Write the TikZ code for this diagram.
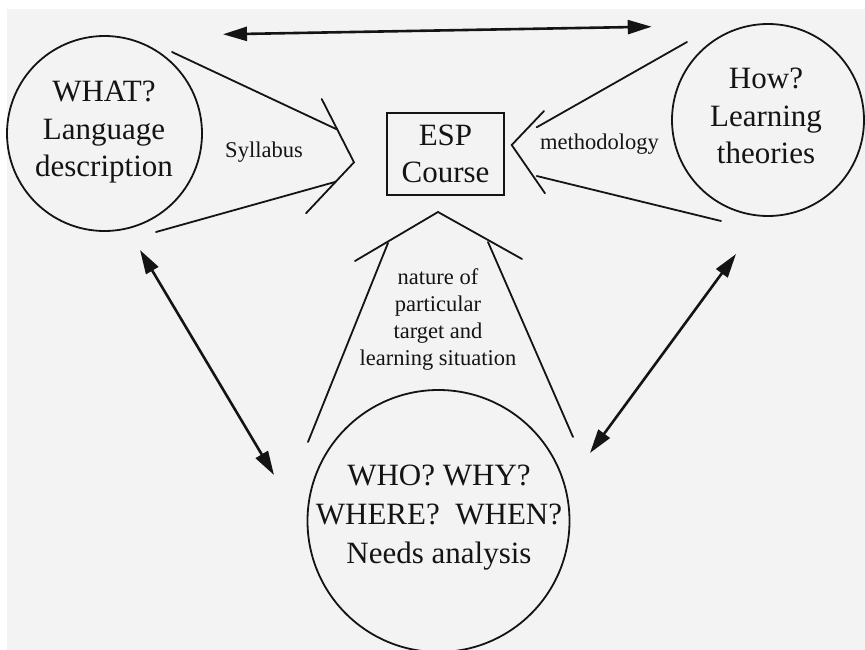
\documentclass[tikz,border=0pt]{standalone}
\usepackage{fontspec}
\setmainfont{Liberation Serif}
\usetikzlibrary{arrows.meta}
\definecolor{paper}{RGB}{243,243,243}
\definecolor{ink}{RGB}{20,20,20}
\begin{document}
\begin{tikzpicture}[x=1pt,y=-1pt,
  bigtxt/.style={font=\fontsize{31}{37.5}\selectfont, align=center, inner sep=0pt, text=ink},
  smalltxt/.style={font=\fontsize{22.5}{27}\selectfont, align=center, inner sep=0pt, text=ink},
  ring/.style={circle, draw=ink, line width=1.8pt, inner sep=0pt},
  flow/.style={draw=ink, line width=1.8pt, line cap=round, line join=miter},
  link/.style={draw=ink, line width=2.6pt, {Triangle[length=24pt,width=14pt]}-{Triangle[length=24pt,width=14pt]}}
]
\useasboundingbox (0,0) rectangle (865,650);
\fill[white] (0,0) rectangle (865,650);
\fill[paper] (7,9) rectangle (865,650);

% circles and box
\node[ring, minimum size=195pt] (what) at (104.5,133.5) {};
\node[bigtxt] (whatT) at (104,132.5) {WHAT?\\Language\\description};
\node[ring, minimum size=192pt] (how) at (768,120) {};
\node[bigtxt] (howT) at (766,116) {How?\\Learning\\theories};
\node[ring, minimum size=262pt] (who) at (438.5,521) {};
\node[bigtxt, font=\fontsize{31}{39}\selectfont] (whoT) at (439,518) {WHO? WHY?\\WHERE?\ \ WHEN?\\Needs analysis};
\node[draw=ink, line width=1.8pt, minimum width=117pt, minimum height=82pt, bigtxt] (esp) at (445.5,154) {ESP\\Course};

% labels
\node[smalltxt] (syl) at (264,152) {Syllabus};
\node[smalltxt] (meth) at (599.5,144) {methodology};
\node[smalltxt] (nat) at (438,319.5) {nature of\\particular\\target and\\learning situation};

% left funnel (Syllabus)
\coordinate (sA) at (172,52);
\coordinate (sB) at (336.7,129.3);
\coordinate (sTop) at (321.7,99);
\coordinate (sTip) at (354,162.3);
\coordinate (sBot) at (306,213.3);
\coordinate (sC) at (336,181.7);
\coordinate (sD) at (156,232);
\draw[flow] (sA) -- (sB);
\draw[flow] (sTop) -- (sTip) -- (sBot);
\draw[flow] (sD) -- (sC);

% right funnel (methodology)
\coordinate (mA) at (687,42);
\coordinate (mB) at (536.7,127.3);
\coordinate (mTop) at (544,111);
\coordinate (mTip) at (511.7,145);
\coordinate (mBot) at (545,193.3);
\coordinate (mC) at (536.7,176);
\coordinate (mD) at (721,221);
\draw[flow] (mA) -- (mB);
\draw[flow] (mTop) -- (mTip) -- (mBot);
\draw[flow] (mD) -- (mC);

% bottom funnel (needs)
\coordinate (nA) at (308,442);
\coordinate (nB) at (388,243);
\coordinate (nL) at (355,261);
\coordinate (nTip) at (438,212);
\coordinate (nR) at (522,259);
\coordinate (nC) at (488,242);
\coordinate (nD) at (573,437);
\draw[flow] (nA) -- (nB);
\draw[flow] (nL) -- (nTip) -- (nR);
\draw[flow] (nD) -- (nC);

% double arrows
\coordinate (tL) at (223,34.3);
\coordinate (tR) at (651.7,26.7);
\coordinate (lU) at (140,250);
\coordinate (lD) at (274,475);
\coordinate (rU) at (736,254);
\coordinate (rD) at (590,453);
\draw[link] (tL) -- (tR);
\draw[link] (lU) -- (lD);
\draw[link] (rU) -- (rD);
\end{tikzpicture}
\end{document}
